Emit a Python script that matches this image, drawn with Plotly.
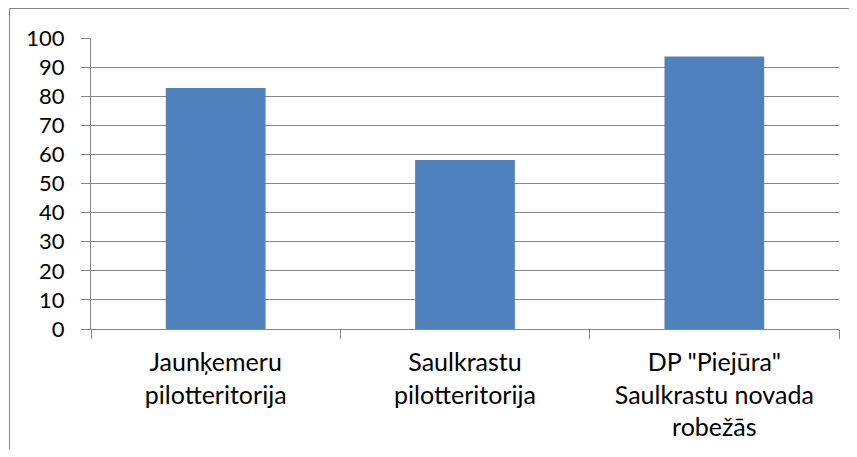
import plotly.graph_objects as go

categories = ["Jaunķemeru<br>pilotteritorija", "Saulkrastu<br>pilotteritorija", "DP \"Piejūra\"<br>Saulkrastu novada<br>robežās"]
values = [82.8, 58.1, 93.6]
y_ticks = list(range(0, 101, 10))

# page has an 8px body margin, so the figure is offset by (8, 8)
W, H = 841, 441
L, R, T, B = 83, 10, 30, 120
pw = W - L - R
ph = H - T - B

fig = go.Figure(go.Bar(x=categories, y=values, marker=dict(color="#4F81BD", line=dict(width=0)), width=0.4))

fig.update_layout(
    width=W, height=H,
    margin=dict(l=L, r=R, t=T, b=B),
    paper_bgcolor="white", plot_bgcolor="white",
    font=dict(family="Lato, Open Sans, sans-serif", size=22, color="#000000"),
    showlegend=False,
    xaxis=dict(
        type="category", showline=True, linecolor="#868686", linewidth=1,
        ticks="outside", tickson="boundaries", ticklen=9, tickcolor="#868686",
        showgrid=False, tickfont=dict(size=25), automargin=False,
        ticklabelstandoff=11,
    ),
    yaxis=dict(
        range=[0, 100], tickvals=y_ticks, showline=True, linecolor="#868686", linewidth=1,
        ticks="outside", ticklen=9, tickcolor="#868686",
        showgrid=True, gridcolor="#868686", gridwidth=1, zeroline=False,
        tickfont=dict(size=22), automargin=False, ticklabelstandoff=12,
    ),
    shapes=[dict(
        type="rect", xref="paper", yref="paper",
        x0=(1.5 - L) / pw, x1=(W + 20 - L) / pw,
        y0=-(H + 20 - T - ph) / ph, y1=(H - 0.5 - B) / ph,
        line=dict(color="#868686", width=1), fillcolor="rgba(0,0,0,0)", layer="below",
    )],
)

fig.write_html("out.html")
